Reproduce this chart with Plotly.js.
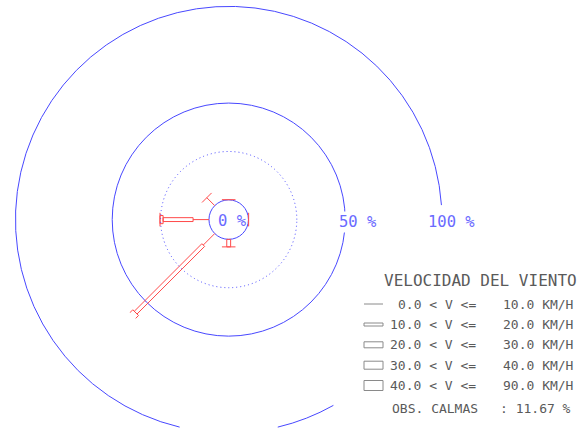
<!DOCTYPE html>
<html>
<head>
<meta charset="utf-8">
<script src="https://cdn.plot.ly/plotly-3.0.1.min.js"></script>
<style>html,body{margin:0;padding:0;background:#fff;}#chart{width:578px;height:429px;}</style>
</head>
<body>
<div id="chart"></div>
<script>
// ---------------- DATA ----------------
const directions = ['N', 'NE', 'E', 'SE', 'S', 'SW', 'W', 'NW'];
const dirDegrees = [0, 45, 90, 135, 180, 225, 270, 315];
// frequency (%) per speed class, per direction
const freq0to10  = [0.1, 0, 0.1, 0, 0,   8.4, 8.2,  5.8];
const freq10to20 = [0,   0, 0,   0, 3.9, 49.4, 15.5, 0];
const freq20to30 = [0,   0, 0,   0, 0,   6.9, 1.6,  0];
const freq30to40 = [0,   0, 0,   0, 0,   0,   0,    0];
const freq40to90 = [0,   0, 0,   0, 0,   0,   0,    0];
const classLow  = ['0.0', '10.0', '20.0', '30.0', '40.0'];
const classHigh = ['10.0', '20.0', '30.0', '40.0', '90.0'];
const ringSolid = [0, 50];
const ringDotted = [25];
const ringOuter = [100];
const ringLabels = ['0 %', '50 %', '100 %'];
const calmPercent = 11.67;
const legendTitle = 'VELOCIDAD DEL VIENTO';
const calmLabel = 'OBS. CALMAS';

// ---------------- STYLE / LAYOUT ----------------
const W = 578, H = 429;
const S = {
  cx: 228.7, cy: 219.6,      // centre in px (from top)
  k: 1.935,                  // px per percent
  r0: 10.2,                  // calm-circle radius in percent units
  blue: '#4848ff', labelBlue: '#6a6aff', red: '#ff4a4a', grey: '#8a8a8a', text: '#5a5a5a',
  halfW: [0, 1.0, 2.1, 2.6, 3.1],   // half widths of class symbols (percent units)
  capHalf: 3.5,
  outerSectorA: [3.9, 256.7],
  outerSectorB: [283.3, 299.4],
  labelPos: [[232.5, 221], [358, 222], [451.5, 222]],
  legendTitleY: 280, legendTitleX: 480,
  rowY: [304, 324.5, 344.8, 365.2, 385.5],
  symX: [364, 383], symH: [0, 3, 6, 8, 10],
  leftRight: 478, rightCenter: 538, rowFont: 13,
  calmY: 408, calmLeftX: 435, calmRightX: 535
};
const classFreqs = [freq0to10, freq10to20, freq20to30, freq30to40, freq40to90];

function sectorBBox(s0, s1) {
  const pts = [[0, 0]];
  const add = a => pts.push([Math.cos(a * Math.PI / 180), Math.sin(a * Math.PI / 180)]);
  add(s0); add(s1);
  for (let a = -720; a <= 720; a += 90) if (a > s0 && a < s1) add(a);
  const xs = pts.map(p => p[0]), ys = pts.map(p => p[1]);
  return [Math.min(...xs), Math.min(...ys), Math.max(...xs), Math.max(...ys)];
}
function domainFor(rmax, bb) {
  const R = (rmax + S.r0) * S.k;
  const cyb = H - S.cy;
  return {
    x: [(S.cx + bb[0] * R) / W, (S.cx + bb[2] * R) / W],
    y: [(cyb + bb[1] * R) / H, (cyb + bb[3] * R) / H]
  };
}
function corner(r, w, th, sign) {
  const D = r + S.r0;
  return [Math.sqrt(D * D + w * w) - S.r0, th + sign * Math.atan2(w, D) * 180 / Math.PI];
}

// build red bars from data
const barR = [], barT = [];
function pushPts(pts) { pts.forEach(p => { barR.push(p[0]); barT.push(p[1]); }); barR.push(null); barT.push(null); }
directions.forEach((d, i) => {
  const th = dirDegrees[i];
  let cum = 0;
  classFreqs.forEach((arr, j) => {
    const v = arr[i];
    if (v <= 0) return;
    const a = cum, b = cum + v;
    if (j === 0) {
      pushPts([[a, th], [b, th]]);
    } else {
      const w = S.halfW[j];
      pushPts([corner(a, w, th, 1), corner(b, w, th, 1), corner(b, w, th, -1), corner(a, w, th, -1), corner(a, w, th, 1)]);
    }
    cum = b;
  });
  if (cum > 0) pushPts([corner(cum, S.capHalf, th, 1), corner(cum, S.capHalf, th, -1)]);
});

const noAng = { showgrid: false, showline: false, showticklabels: false, ticks: '', rotation: 90, direction: 'clockwise' };
function radial(rmax, vals, dash) {
  return { range: [-S.r0, rmax], tickmode: 'array', tickvals: vals, showline: false, showticklabels: false, ticks: '',
           showgrid: true, gridcolor: S.blue, gridwidth: 1, griddash: dash };
}
const full = [-1, -1, 1, 1];

const traces = [{
  type: 'scatterpolar', subplot: 'polar', mode: 'lines', r: barR, theta: barT,
  line: { color: S.red, width: 1 }, connectgaps: false, hoverinfo: 'skip', showlegend: false
}];

const font = (size, color) => ({ family: 'DejaVu Sans Mono, monospace', size: size, color: color });
const ann = [];
ringLabels.forEach((t, i) => {
  ann.push({ xref: 'paper', yref: 'paper', x: S.labelPos[i][0] / W, y: 1 - S.labelPos[i][1] / H,
    text: t, showarrow: false, xanchor: 'center', yanchor: 'middle', font: font(15.5, S.labelBlue),
    bgcolor: i === 1 ? '#ffffff' : 'rgba(0,0,0,0)', borderpad: 1 });
});
ann.push({ xref: 'paper', yref: 'paper', x: S.legendTitleX / W, y: 1 - S.legendTitleY / H, text: legendTitle,
  showarrow: false, xanchor: 'center', yanchor: 'middle', font: font(16, S.text) });
const shapes = [];
classLow.forEach((lo, j) => {
  const y = S.rowY[j];
  ann.push({ xref: 'paper', yref: 'paper', x: S.leftRight / W, y: 1 - y / H, text: lo + ' &lt; V &lt;=',
    showarrow: false, xanchor: 'right', yanchor: 'middle', font: font(S.rowFont, S.text) });
  ann.push({ xref: 'paper', yref: 'paper', x: S.rightCenter / W, y: 1 - y / H, text: classHigh[j] + ' KM/H',
    showarrow: false, xanchor: 'center', yanchor: 'middle', font: font(S.rowFont, S.text) });
  const h = S.symH[j] / 2;
  if (j === 0) {
    shapes.push({ type: 'line', xref: 'paper', yref: 'paper', x0: S.symX[0] / W, x1: S.symX[1] / W,
      y0: 1 - y / H, y1: 1 - y / H, line: { color: S.grey, width: 1 } });
  } else {
    shapes.push({ type: 'rect', xref: 'paper', yref: 'paper', x0: S.symX[0] / W, x1: S.symX[1] / W,
      y0: 1 - (y - h) / H, y1: 1 - (y + h) / H, line: { color: S.grey, width: 1 }, fillcolor: 'rgba(0,0,0,0)' });
  }
});
ann.push({ xref: 'paper', yref: 'paper', x: S.calmLeftX / W, y: 1 - S.calmY / H, text: calmLabel,
  showarrow: false, xanchor: 'center', yanchor: 'middle', font: font(S.rowFont, S.text) });
ann.push({ xref: 'paper', yref: 'paper', x: S.calmRightX / W, y: 1 - S.calmY / H, text: ': ' + calmPercent.toFixed(2) + ' %',
  showarrow: false, xanchor: 'center', yanchor: 'middle', font: font(S.rowFont, S.text) });

const layout = {
  width: W, height: H, margin: { l: 0, r: 0, t: 0, b: 0 },
  paper_bgcolor: '#ffffff', showlegend: false,
  polar:  { domain: domainFor(60, full), bgcolor: 'rgba(0,0,0,0)', angularaxis: noAng, radialaxis: radial(60, ringSolid, 'solid') },
  polar2: { domain: domainFor(30, full), bgcolor: 'rgba(0,0,0,0)', angularaxis: noAng, radialaxis: radial(30, ringDotted, '1px,3px') },
  polar3: { domain: domainFor(100.6, sectorBBox(S.outerSectorA[0], S.outerSectorA[1])), sector: S.outerSectorA,
            bgcolor: 'rgba(0,0,0,0)', angularaxis: noAng, radialaxis: radial(100.6, ringOuter, 'solid') },
  polar4: { domain: domainFor(100.6, sectorBBox(S.outerSectorB[0], S.outerSectorB[1])), sector: S.outerSectorB,
            bgcolor: 'rgba(0,0,0,0)', angularaxis: noAng, radialaxis: radial(100.6, ringOuter, 'solid') },
  annotations: ann, shapes: shapes
};
// empty traces so the overlay subplots render
['polar2', 'polar3', 'polar4'].forEach(p => traces.push({ type: 'scatterpolar', subplot: p, r: [], theta: [], mode: 'lines', hoverinfo: 'skip', showlegend: false }));

Plotly.newPlot('chart', traces, layout, { staticPlot: true, displayModeBar: false });
</script>
</body>
</html>
